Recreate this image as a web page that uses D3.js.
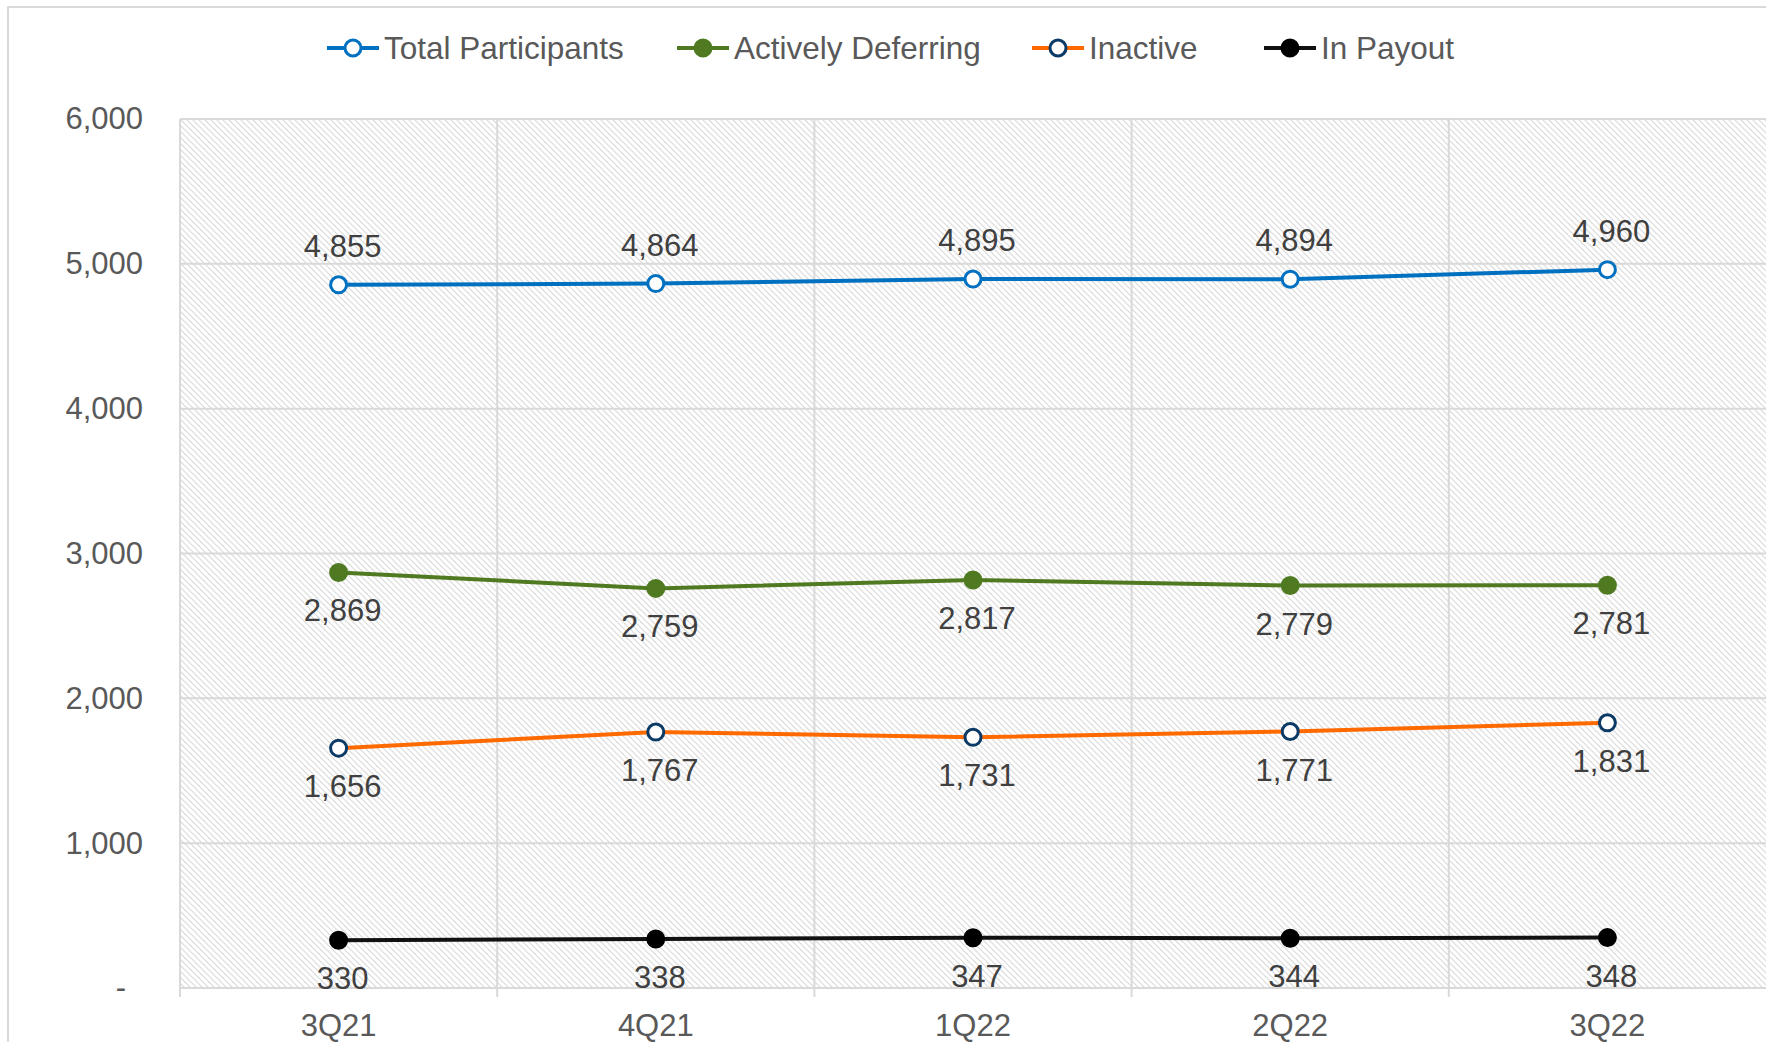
<!DOCTYPE html>
<html>
<head>
<meta charset="utf-8">
<script src="https://cdn.jsdelivr.net/npm/d3@7"></script>
<style>
  body { margin: 0; background: #fff; }
  text { font-family: "Liberation Sans", Arial, sans-serif; fill: #595959; }
</style>
</head>
<body>
<div class="chart"></div>
<script>
// data
const quarters = ['3Q21', '4Q21', '1Q22', '2Q22', '3Q22'];
const total_participants = [4855, 4864, 4895, 4894, 4960];
const actively_deferring = [2869, 2759, 2817, 2779, 2781];
const inactive = [1656, 1767, 1731, 1771, 1831];
const in_payout = [330, 338, 347, 344, 348];
const y_ticks = [0, 1000, 2000, 3000, 4000, 5000, 6000];

const series = [
    {name: 'Total Participants', values: total_participants, line: '#0070c0', stroke: '#0070c0', fill: '#fff', label: 'above'},
    {name: 'Actively Deferring', values: actively_deferring, line: '#4f7a21', stroke: '#4f7a21', fill: '#4f7a21', label: 'below'},
    {name: 'Inactive', values: inactive, line: '#ff6a00', stroke: '#0b3a66', fill: '#fff', label: 'below'},
    {name: 'In Payout', values: in_payout, line: '#111', stroke: '#000', fill: '#000', label: 'below'}
];
// legend slot starts (px)
const legend_x = [327, 677, 1032, 1264];

const svg_width = 1766, svg_height = 1042;
const margin = {top: 119, right: 0, bottom: 54, left: 180};
const chart_width = svg_width - margin.left - margin.right;
const chart_height = svg_height - margin.top - margin.bottom;

const svg = d3.select('.chart').append('svg')
    .attr('width', svg_width)
    .attr('height', svg_height);

// hatched plot background
const defs = svg.append('defs');
const pat = defs.append('pattern')
    .attr('id', 'hatch')
    .attr('patternUnits', 'userSpaceOnUse')
    .attr('width', 6).attr('height', 6);
pat.append('rect').attr('width', 6).attr('height', 6).attr('fill', '#fff');
pat.append('path')
    .attr('d', 'M-1,-1 L7,7 M-1,5 L1,7 M5,-1 L7,1')
    .attr('stroke', '#dadada').attr('stroke-width', 1.2);

// outer chart border
svg.append('rect')
    .attr('x', 8).attr('y', 7)
    .attr('width', svg_width + 10).attr('height', svg_height + 10)
    .attr('fill', 'none').attr('stroke', '#d9d9d9').attr('stroke-width', 2);

const g = svg.append('g').attr('transform', `translate(${margin.left},${margin.top})`);

const x_scale = d3.scaleBand().domain(quarters).range([0, chart_width]).padding(0);
const y_scale = d3.scaleLinear().domain([0, 6000]).range([chart_height, 0]);

g.append('rect')
    .attr('width', chart_width).attr('height', chart_height)
    .attr('fill', 'url(#hatch)');

// horizontal grid
g.append('g').selectAll('line')
    .data(y_ticks)
    .join('line')
    .attr('x1', 0).attr('x2', chart_width)
    .attr('y1', d => y_scale(d)).attr('y2', d => y_scale(d))
    .attr('stroke', '#d9d9d9').attr('stroke-width', 2);

// vertical grid + ticks under the axis
g.append('g').selectAll('line')
    .data(quarters)
    .join('line')
    .attr('x1', d => x_scale(d)).attr('x2', d => x_scale(d))
    .attr('y1', 0).attr('y2', chart_height + 9)
    .attr('stroke', '#d9d9d9').attr('stroke-width', 2);

// y axis labels
const y_axis = d3.axisLeft(y_scale)
    .tickValues(y_ticks)
    .tickSize(0)
    .tickPadding(37)
    .tickFormat(d => d === 0 ? '-' : d3.format(',')(d));
const ya = g.append('g').call(y_axis);
ya.select('.domain').remove();
ya.selectAll('text')
    .style('font-size', '31px')
    .style('fill', '#595959')
    .style('font-family', '"Liberation Sans", Arial, sans-serif')
    .attr('x', d => d === 0 ? -54 : -37);

// x axis labels
const x_axis = d3.axisBottom(x_scale).tickSize(0).tickPadding(26);
const xa = g.append('g').attr('transform', `translate(0,${chart_height})`).call(x_axis);
xa.select('.domain').remove();
xa.selectAll('text')
    .style('font-size', '31px')
    .style('fill', '#595959')
    .style('font-family', '"Liberation Sans", Arial, sans-serif');

// lines
const line_gen = d3.line()
    .x((d, i) => x_scale(quarters[i]) + x_scale.bandwidth() / 2)
    .y(d => y_scale(d));

const sg = g.selectAll('.series')
    .data(series)
    .join('g')
    .attr('class', 'series');

sg.append('path')
    .attr('d', d => line_gen(d.values))
    .attr('fill', 'none')
    .attr('stroke', d => d.line)
    .attr('stroke-width', 4);

sg.each(function(s) {
    const grp = d3.select(this);
    grp.selectAll('circle')
        .data(s.values)
        .join('circle')
        .attr('cx', (d, i) => x_scale(quarters[i]) + x_scale.bandwidth() / 2)
        .attr('cy', d => y_scale(d))
        .attr('r', 8)
        .attr('fill', s.fill)
        .attr('stroke', s.stroke)
        .attr('stroke-width', 3);
    grp.selectAll('text')
        .data(s.values)
        .join('text')
        .attr('x', (d, i) => x_scale(quarters[i]) + x_scale.bandwidth() / 2 + 4)
        .attr('y', d => y_scale(d) + (s.label === 'above' ? -28 : 49))
        .attr('text-anchor', 'middle')
        .style('font-size', '31px')
        .style('fill', '#404040')
        .text(d => d3.format(',')(d));
});

// legend
const lg = svg.append('g').selectAll('g')
    .data(series)
    .join('g')
    .attr('transform', (d, i) => `translate(${legend_x[i]},48)`);
lg.append('line')
    .attr('x1', 0).attr('x2', 52)
    .attr('stroke', d => d.line).attr('stroke-width', 4);
lg.append('circle')
    .attr('cx', 26).attr('r', 8)
    .attr('fill', d => d.fill).attr('stroke', d => d.stroke).attr('stroke-width', 3);
lg.append('text')
    .attr('x', 57).attr('y', 11)
    .style('font-size', '31.5px')
    .text(d => d.name);
</script>
</body>
</html>
